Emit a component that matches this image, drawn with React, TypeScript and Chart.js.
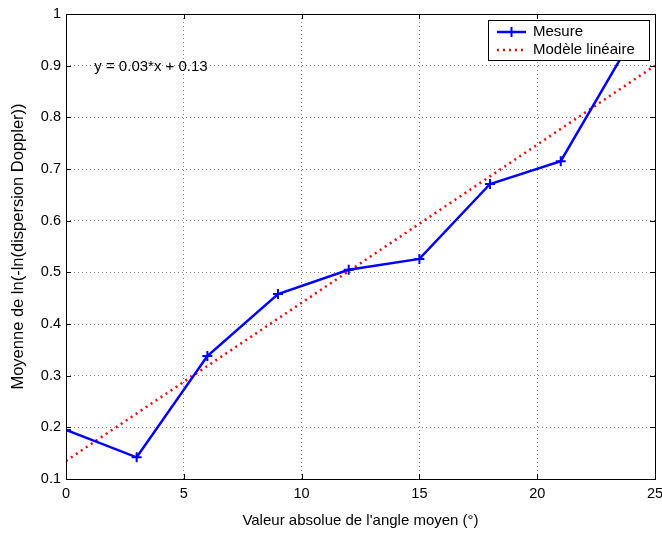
import React, { useEffect, useRef } from "react";
import { Chart, registerables } from "chart.js";

Chart.register(...registerables);

const xValues = [0, 3, 6, 9, 12, 15, 18, 21, 24];
const mesure = [0.195, 0.142, 0.338, 0.458, 0.505, 0.526, 0.671, 0.715, 0.95];
const fitX = [0, 25];
const fitY = [0.135, 0.9];
const xTicks = [0, 5, 10, 15, 20, 25];
const yTicks = [0.1, 0.2, 0.3, 0.4, 0.5, 0.6, 0.7, 0.8, 0.9, 1];
const equation = "y = 0.03*x + 0.13";
const xTitle = "Valeur absolue de l'angle moyen (°)";
const yTitle = "Moyenne de ln(-ln(dispersion Doppler))";
const labels = ["Mesure", "Modèle linéaire"];

const FONT = "'Liberation Sans', Arial, Helvetica, sans-serif";

const framePlugin = {
  id: "frame",
  afterDraw(chart: any) {
    const { ctx, chartArea: a, scales } = chart;
    const xs = scales.x;
    const ys = scales.y;
    ctx.save();
    ctx.strokeStyle = "#000";
    ctx.lineWidth = 1;
    ctx.strokeRect(Math.round(a.left) + 0.5, Math.round(a.top) + 0.5, Math.round(a.right - a.left), Math.round(a.bottom - a.top));
    const tl = 5;
    ctx.beginPath();
    xTicks.forEach((v) => {
      const px = Math.round(xs.getPixelForValue(v)) + 0.5;
      ctx.moveTo(px, a.bottom);
      ctx.lineTo(px, a.bottom - tl);
      ctx.moveTo(px, a.top);
      ctx.lineTo(px, a.top + tl);
    });
    yTicks.forEach((v) => {
      const py = Math.round(ys.getPixelForValue(v)) + 0.5;
      ctx.moveTo(a.left, py);
      ctx.lineTo(a.left + tl, py);
      ctx.moveTo(a.right, py);
      ctx.lineTo(a.right - tl, py);
    });
    ctx.stroke();

    ctx.fillStyle = "#000";
    ctx.font = `15px ${FONT}`;
    ctx.textBaseline = "middle";
    ctx.textAlign = "left";
    ctx.fillText(equation, xs.getPixelForValue(1.2), ys.getPixelForValue(0.9) + 1);

    const bx = 488, by = 20, bw = 161, bh = 40;
    ctx.fillStyle = "#fff";
    ctx.fillRect(bx, by, bw, bh);
    ctx.strokeStyle = "#000";
    ctx.lineWidth = 1;
    ctx.strokeRect(bx + 0.5, by + 0.5, bw, bh);
    const ds = chart.data.datasets;
    const rows = [32, 50];
    ds.forEach((d: any, i: number) => {
      const y = rows[i];
      ctx.save();
      ctx.strokeStyle = d.borderColor;
      ctx.lineWidth = d.borderWidth;
      ctx.setLineDash(d.borderDash || []);
      ctx.beginPath();
      ctx.moveTo(497, y);
      ctx.lineTo(526, y);
      ctx.stroke();
      if (d.pointRadius > 0) {
        ctx.setLineDash([]);
        ctx.lineWidth = 2;
        ctx.beginPath();
        ctx.moveTo(511.5 - 5, y);
        ctx.lineTo(511.5 + 5, y);
        ctx.moveTo(511.5, y - 5);
        ctx.lineTo(511.5, y + 5);
        ctx.stroke();
      }
      ctx.restore();
      ctx.fillStyle = "#000";
      ctx.font = `15px ${FONT}`;
      ctx.textBaseline = "middle";
      ctx.textAlign = "left";
      ctx.fillText(d.label, 533, y);
    });
    ctx.restore();
  },
};

export default function App() {
  const ref = useRef<HTMLCanvasElement>(null);
  useEffect(() => {
    document.body.style.margin = "0";
    const chart = new Chart(ref.current!, {
      type: "line",
      data: {
        datasets: [
          {
            label: labels[0],
            data: xValues.map((x, i) => ({ x, y: mesure[i] })),
            borderColor: "#0000ff",
            backgroundColor: "#0000ff",
            borderWidth: 2.5,
            pointStyle: "cross",
            pointRadius: 5,
            pointBorderWidth: 2,
            pointBorderColor: "#0000ff",
            tension: 0,
          },
          {
            label: labels[1],
            data: fitX.map((x, i) => ({ x, y: fitY[i] })),
            borderColor: "#ff0000",
            backgroundColor: "#ff0000",
            borderWidth: 2.5,
            borderDash: [2, 4],
            pointRadius: 0,
            tension: 0,
          },
        ] as any,
      },
      options: {
        animation: false,
        responsive: false,
        layout: { padding: { top: 14, right: 5, left: 0, bottom: 0 } },
        plugins: { legend: { display: false }, tooltip: { enabled: false } },
        scales: {
          x: {
            type: "linear",
            min: 0,
            max: 25,
            afterBuildTicks: (s: any) => {
              s.ticks = xTicks.map((v) => ({ value: v }));
            },
            afterFit: (s: any) => {
              s.height = 54;
              s.paddingLeft = 0;
              s.paddingRight = 0;
            },
            ticks: { color: "#000", font: { size: 14.5, family: FONT }, padding: 6, maxRotation: 0 },
            grid: { color: "rgba(0,0,0,0.5)", drawTicks: false },
            border: { display: false, dash: [1, 3] },
            title: { display: true, text: xTitle, color: "#000", font: { size: 15, family: FONT }, padding: { top: 0, bottom: 3 } },
          },
          y: {
            type: "linear",
            min: 0.1,
            max: 1,
            afterBuildTicks: (s: any) => {
              s.ticks = yTicks.map((v) => ({ value: v }));
            },
            afterFit: (s: any) => {
              s.width = 66;
              s.paddingTop = 0;
              s.paddingBottom = 0;
            },
            ticks: { color: "#000", font: { size: 14.5, family: FONT }, padding: 5, callback: (v: any) => String(Math.round(v * 10) / 10) },
            grid: { color: "rgba(0,0,0,0.5)", drawTicks: false },
            border: { display: false, dash: [1, 3] },
            title: { display: true, text: yTitle, color: "#000", font: { size: 16.5, family: FONT }, padding: { top: 9, bottom: 0 } },
          },
        },
      } as any,
      plugins: [framePlugin],
    });
    return () => chart.destroy();
  }, []);
  return (
    <div style={{ width: 662, height: 533, background: "#fff" }}>
      <canvas ref={ref} width={662} height={533} />
    </div>
  );
}
